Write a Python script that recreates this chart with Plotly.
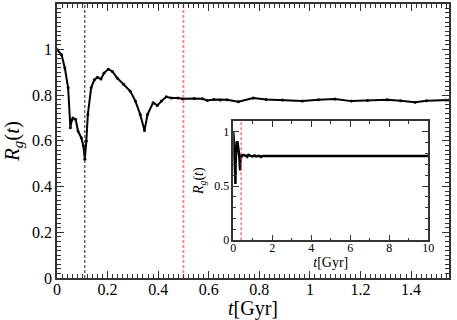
import plotly.graph_objects as go

# Main panel data (t in Gyr, R_g(t))
t_main = [0, 0.018, 0.031, 0.044, 0.053, 0.058, 0.063, 0.074, 0.083, 0.096, 0.104, 0.11,
          0.116, 0.122, 0.135, 0.148, 0.16, 0.174, 0.186, 0.203, 0.219, 0.238, 0.264, 0.29,
          0.31, 0.329, 0.346, 0.358, 0.38, 0.397, 0.413, 0.432, 0.452, 0.478, 0.497, 0.543,
          0.575, 0.594, 0.62, 0.646, 0.672, 0.717, 0.776, 0.827, 0.892, 0.97, 1.034, 1.099,
          1.164, 1.228, 1.306, 1.358, 1.416, 1.461, 1.539, 1.55]
rg_main = [1.0, 0.977, 0.919, 0.832, 0.658, 0.69, 0.70, 0.694, 0.643, 0.614, 0.58, 0.52,
           0.60, 0.716, 0.832, 0.868, 0.878, 0.871, 0.897, 0.914, 0.904, 0.875, 0.847, 0.817,
           0.774, 0.716, 0.645, 0.716, 0.767, 0.755, 0.774, 0.793, 0.788, 0.788, 0.784, 0.786,
           0.784, 0.777, 0.781, 0.779, 0.78, 0.771, 0.788, 0.781, 0.779, 0.774, 0.78, 0.783,
           0.774, 0.777, 0.78, 0.776, 0.769, 0.776, 0.779, 0.779]

# Long-time tail for the inset
t_tail = [2, 3, 4, 5, 6, 7, 8, 9, 10]
rg_tail = [0.778, 0.776, 0.779, 0.777, 0.778, 0.776, 0.779, 0.777, 0.778]

# Reference times (dashed lines)
t_black = 0.11
t_red = 0.5
t_red_inset = 0.4

FONT = "Liberation Serif, Times New Roman, serif"
red = "#ff7f7f"
AX = "#333333"

fig = go.Figure()
fig.add_trace(go.Scatter(x=t_main, y=rg_main, mode="lines+markers",
                         line=dict(color="black", width=2),
                         marker=dict(color="black", size=3),
                         xaxis="x", yaxis="y", showlegend=False))
fig.add_trace(go.Scatter(x=[t_black, t_black], y=[0, 1.2], mode="lines",
                         line=dict(color="#222222", width=1, dash="3px,2px"),
                         xaxis="x", yaxis="y", showlegend=False))
fig.add_trace(go.Scatter(x=[t_red, t_red], y=[0, 1.2], mode="lines",
                         line=dict(color=red, width=1.8, dash="3px,2px"),
                         xaxis="x", yaxis="y", showlegend=False))

# Inset
fig.add_trace(go.Scatter(x=t_main + t_tail, y=rg_main + rg_tail, mode="lines",
                         line=dict(color="black", width=2.5),
                         xaxis="x2", yaxis="y2", showlegend=False))
fig.add_trace(go.Scatter(x=[t_red_inset, t_red_inset], y=[0, 1.1], mode="lines",
                         line=dict(color="#ee3333", width=1, dash="3px,2px"),
                         xaxis="x2", yaxis="y2", showlegend=False))

def axis(**kw):
    base = dict(showgrid=False, zeroline=False, showline=True, linecolor=AX,
                linewidth=1.5, mirror="allticks", ticks="inside", tickcolor=AX,
                tickwidth=1.2, tickmode="linear")
    base.update(kw)
    return base

def minor(dt, ln):
    return dict(dtick=dt, tick0=0, ticks="inside", ticklen=ln, tickcolor=AX, tickwidth=1, showgrid=False)

fig.update_layout(
    width=457, height=320,
    margin=dict(l=57, r=2, t=2, b=42),
    paper_bgcolor="white", plot_bgcolor="white",
    font=dict(family=FONT, color="black"),
    xaxis=axis(range=[0, 1.55], tick0=0, dtick=0.2, ticklen=7,
               tickfont=dict(family=FONT, size=16, color="black"), minor=minor(0.02, 4),
               title=dict(text="<i>t</i>[Gyr]", font=dict(family=FONT, size=20), standoff=0)),
    yaxis=axis(range=[0, 1.199], tick0=0, dtick=0.2, ticklen=7,
               tickfont=dict(family=FONT, size=16, color="black"), minor=minor(0.02, 4),
               title=dict(text="<i>R</i><sub><i>g</i></sub>(<i>t</i>)", font=dict(family=FONT, size=21), standoff=9)),
    xaxis2=axis(domain=[0.4497, 0.947], anchor="y2", range=[0, 10], tick0=0, dtick=2, ticklen=6,
                tickfont=dict(family=FONT, size=12, color="black"), minor=minor(1, 3),
                title=dict(text="<i>t</i>[Gyr]", font=dict(family=FONT, size=14), standoff=0)),
    yaxis2=axis(domain=[0.1377, 0.5725], anchor="x2", range=[0, 1.1], tick0=0, dtick=0.5, ticklen=6,
                tickfont=dict(family=FONT, size=12, color="black"), minor=minor(0.1, 3),
                title=dict(text="<i>R</i><sub><i>g</i></sub>(<i>t</i>)", font=dict(family=FONT, size=14), standoff=7)),
)

try:
    fig.update_xaxes(ticklabelstandoff=-4)
except Exception:
    pass

fig.write_html("out.html", config={"displayModeBar": False},
               post_script="document.body.style.margin='0';document.body.style.overflow='hidden';")
